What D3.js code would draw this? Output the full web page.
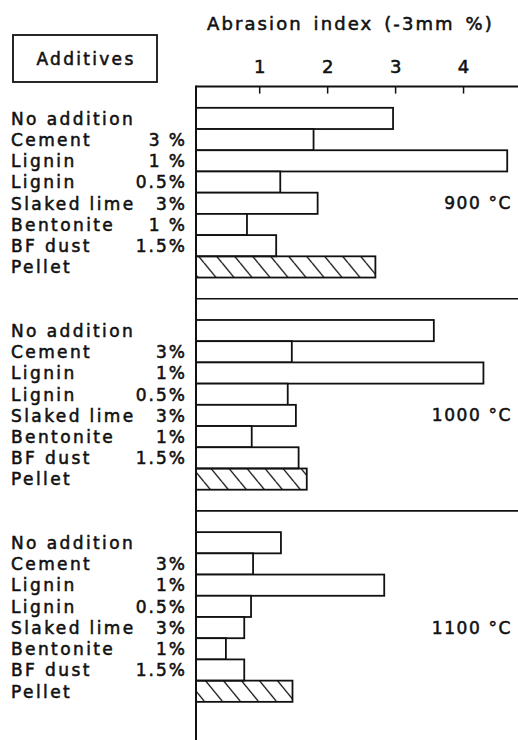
<!DOCTYPE html>
<html>
<head>
<meta charset="utf-8">
<script src="https://cdn.jsdelivr.net/npm/d3@7"></script>
<style>
  html, body { margin: 0; padding: 0; background: #fff; }
  svg { display: block; }
  text { font-family: "DejaVu Sans", sans-serif; fill: #111; stroke: #111; stroke-width: 0.55px; }
</style>
</head>
<body>
<svg id="chart" width="518" height="740"></svg>
<script>
// ---- data ----
const additives = ["No addition", "Cement", "Lignin", "Lignin", "Slaked lime", "Bentonite", "BF dust", "Pellet"];
const amounts900 = ["", "3 %", "1 %", "0.5%", "3%", "1 %", "1.5%", ""];
const amounts = ["", "3%", "1%", "0.5%", "3%", "1%", "1.5%", ""];
const temperatures = ["900 °C", "1000 °C", "1100 °C"];
const values900 = [2.97, 1.80, 4.65, 1.31, 1.86, 0.82, 1.25, 2.71];
const values1000 = [3.57, 1.48, 4.30, 1.42, 1.54, 0.89, 1.58, 1.70];
const values1100 = [1.32, 0.91, 2.84, 0.88, 0.78, 0.51, 0.78, 1.49];
const tickValues = [1, 2, 3, 4];
const axisTitle = "Abrasion index (-3mm %)";
const boxTitle = "Additives";

const groups = [
  { temp: temperatures[0], values: values900, amounts: amounts900 },
  { temp: temperatures[1], values: values1000, amounts: amounts },
  { temp: temperatures[2], values: values1100, amounts: amounts }
];

// ---- layout ----
const svg = d3.select("#chart");
const axisOrigin = 0.07;            // value at the vertical axis line
const x = d3.scaleLinear().domain([axisOrigin, 5]).range([196, 531]);
const rowStep = 21.9;
const rows = d3.range(-1, 31);
const y = d3.scaleBand().domain(rows).range([108.5 - rowStep, 108.5 + 30 * rowStep]).padding(0);

// hatch pattern
const defs = svg.append("defs");
const hp = defs.append("pattern").attr("id", "hatch")
  .attr("patternUnits", "userSpaceOnUse")
  .attr("width", 18).attr("height", rowStep).attr("x", 6).attr("y", 0);
[-18, 0, 18].forEach(dx => {
  hp.append("line").attr("x1", dx).attr("y1", 0).attr("x2", dx + 18).attr("y2", rowStep)
    .attr("stroke", "#111").attr("stroke-width", 1.3);
});

// title
svg.append("text").attr("x", 207).attr("y", 30)
  .attr("font-size", 18).attr("letter-spacing", 2.1).attr("word-spacing", 3)
  .text(axisTitle);

// Additives box
svg.append("rect").attr("x", 13).attr("y", 35).attr("width", 144).attr("height", 47)
  .attr("fill", "none").attr("stroke", "#111").attr("stroke-width", 1.8);
svg.append("text").attr("x", 86).attr("y", 65).attr("text-anchor", "middle")
  .attr("font-size", 17).attr("letter-spacing", 2.3).text(boxTitle);

// top axis
const axisY = y(-1);
const axis = d3.axisTop(x).tickValues(tickValues).tickSize(-7).tickPadding(14).tickFormat(d3.format("d"));
const ag = svg.append("g").attr("transform", `translate(0,${axisY})`).call(axis);
ag.select(".domain").remove();
ag.selectAll(".tick line").attr("stroke", "#111").attr("stroke-width", 1.5);
ag.selectAll(".tick text").attr("font-size", 18).attr("font-family", "DejaVu Sans, sans-serif")
  .attr("fill", "#111").attr("stroke", "#111").attr("stroke-width", 0.55);

svg.append("line").attr("x1", x(axisOrigin)).attr("x2", 518).attr("y1", axisY).attr("y2", axisY)
  .attr("stroke", "#111").attr("stroke-width", 2);

// separators
[9, 19].forEach(r => {
  svg.append("line").attr("x1", x(axisOrigin)).attr("x2", 518).attr("y1", y(r)).attr("y2", y(r))
    .attr("stroke", "#111").attr("stroke-width", 1.6);
});

// bars + labels
groups.forEach((g, gi) => {
  const gg = svg.append("g");
  g.values.forEach((v, i) => {
    const r = gi * 10 + i;
    gg.append("rect")
      .attr("x", x(axisOrigin)).attr("y", y(r))
      .attr("width", x(v) - x(axisOrigin)).attr("height", y.bandwidth())
      .attr("fill", additives[i] === "Pellet" ? "url(#hatch)" : "#fff")
      .attr("stroke", "#111").attr("stroke-width", 1.8);
    const cy = y(r) + y.bandwidth() / 2 + 6.3;
    gg.append("text").attr("x", 11).attr("y", cy)
      .attr("font-size", 17).attr("letter-spacing", 2.4).text(additives[i]);
    if (g.amounts[i]) {
      gg.append("text").attr("x", 187).attr("y", cy).attr("text-anchor", "end")
        .attr("font-size", 17).attr("letter-spacing", 2).text(g.amounts[i]);
    }
  });
  gg.append("text").attr("x", 512).attr("y", y(gi * 10 + 4) + y.bandwidth() / 2 + 6)
    .attr("text-anchor", "end").attr("font-size", 17).attr("letter-spacing", 1.6)
    .text(g.temp);
});

// vertical axis line
svg.append("line").attr("x1", x(axisOrigin)).attr("x2", x(axisOrigin))
  .attr("y1", axisY - 1).attr("y2", 740)
  .attr("stroke", "#111").attr("stroke-width", 2);
</script>
</body>
</html>
